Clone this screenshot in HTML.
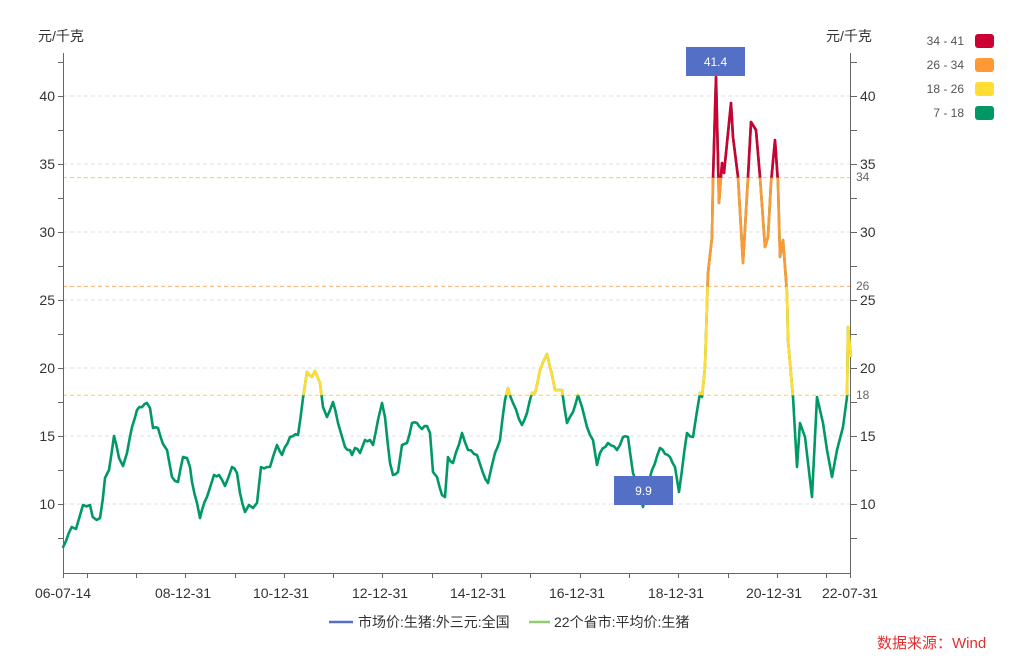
<!DOCTYPE html>
<html><head><meta charset="utf-8"><style>
body{margin:0;background:#fff;}
svg text{font-family:"Liberation Sans","Noto Sans CJK SC",sans-serif;}
</style></head><body>
<svg width="1019" height="661" viewBox="0 0 1019 661" xmlns="http://www.w3.org/2000/svg">
<defs>
<clipPath id="cr"><rect x="0" y="0" width="1019" height="177.6"/></clipPath>
<clipPath id="co"><rect x="0" y="177.6" width="1019" height="108.8"/></clipPath>
<clipPath id="cy"><rect x="0" y="286.4" width="1019" height="108.8"/></clipPath>
</defs>
<g stroke="#e0e0e0" stroke-dasharray="4,3" stroke-width="1">
<line x1="63" x2="850" y1="96" y2="96"/><line x1="63" x2="850" y1="164" y2="164"/>
<line x1="63" x2="850" y1="232" y2="232"/><line x1="63" x2="850" y1="300" y2="300"/>
<line x1="63" x2="850" y1="368" y2="368"/><line x1="63" x2="850" y1="436" y2="436"/>
<line x1="63" x2="850" y1="504" y2="504"/>
</g>
<g stroke-dasharray="4,3" stroke-width="1">
<line x1="63" x2="850" y1="177.6" y2="177.6" stroke="#fcc860"/>
<line x1="63" x2="850" y1="286.4" y2="286.4" stroke="#f9b070"/>
<line x1="63" x2="850" y1="395.2" y2="395.2" stroke="#fcd050"/>
</g>
<g fill="#666" font-size="12"><text x="856" y="181">34</text><text x="856" y="290">26</text><text x="856" y="399">18</text></g>
<g stroke="#666" stroke-width="1" fill="none">
<line x1="63.5" y1="53" x2="63.5" y2="573"/>
<line x1="850.5" y1="53" x2="850.5" y2="573"/>
<line x1="63" y1="573.5" x2="851" y2="573.5"/>
</g>
<g stroke="#666" stroke-width="1" id="ticks"></g>
<g font-size="14" fill="#333" text-anchor="end">
<text x="55" y="101">40</text><text x="55" y="169">35</text><text x="55" y="237">30</text><text x="55" y="305">25</text><text x="55" y="373">20</text><text x="55" y="441">15</text><text x="55" y="509">10</text>
</g>
<g font-size="14" fill="#333">
<text x="860" y="101">40</text><text x="860" y="169">35</text><text x="860" y="237">30</text><text x="860" y="305">25</text><text x="860" y="373">20</text><text x="860" y="441">15</text><text x="860" y="509">10</text>
</g>
<text x="38" y="41" font-size="14" fill="#333">元/千克</text>
<text x="826" y="41" font-size="14" fill="#333">元/千克</text>
<g font-size="14" fill="#333" text-anchor="middle">
<text x="63" y="598">06-07-14</text><text x="183" y="598">08-12-31</text><text x="281" y="598">10-12-31</text><text x="380" y="598">12-12-31</text><text x="478" y="598">14-12-31</text><text x="577" y="598">16-12-31</text><text x="676" y="598">18-12-31</text><text x="774" y="598">20-12-31</text><text x="850" y="598">22-07-31</text>
</g>
<g id="series" fill="none" stroke-width="2.6" stroke-linejoin="round"></g>
<rect x="686" y="47" width="59" height="29" fill="#5470c6"/>
<text x="715.5" y="66" font-size="12" fill="#fff" text-anchor="middle">41.4</text>
<rect x="614" y="476" width="59" height="29" fill="#5470c6"/>
<text x="643.5" y="495" font-size="12" fill="#fff" text-anchor="middle">9.9</text>
<g font-size="12" fill="#555" text-anchor="end">
<text x="964" y="45">34 - 41</text><text x="964" y="69">26 - 34</text><text x="964" y="93">18 - 26</text><text x="964" y="117">7 - 18</text>
</g>
<rect x="975" y="34" width="19" height="14" rx="3" fill="#cc0033"/>
<rect x="975" y="58" width="19" height="14" rx="3" fill="#ff9933"/>
<rect x="975" y="82" width="19" height="14" rx="3" fill="#ffdd33"/>
<rect x="975" y="106" width="19" height="14" rx="3" fill="#009966"/>
<line x1="329" y1="622" x2="353" y2="622" stroke="#5470c6" stroke-width="2.5"/>
<text x="358" y="627" font-size="14" fill="#333">市场价:生猪:外三元:全国</text>
<line x1="529" y1="622" x2="550" y2="622" stroke="#91cc75" stroke-width="2.5"/>
<text x="554" y="627" font-size="14" fill="#333">22个省市:平均价:生猪</text>
<text x="877" y="648" font-size="15" fill="#e03030">数据来源：Wind</text>
</svg>
<script>
var pts="62.7,548 71.7,527 76,529 83,505 90,505 92.7,517 96.7,520 100,518 102.7,500 105,478 109,470 114,436 119,458 123,466 127,453 132,427 137,410 147,403 150,408 153,428 158,428 163,444 167,450 172,477 178,482 183,457 187,458 190,467 192,482 197,503 200,518 202,510 207,497 214,475 219,475 225,486 232,467 237,473 240,493 245,512 249,505 253,508 257,503 261,467 270,467 277,445 282,455 290,437 298,435 303,398 307,372 312,377 315,371 320,383 323,407 327,417 333,402 338,423 345,447 350,450 352,455 355,448 360,453 365,440 370,440 373,445 378,420 382,403 385,417 390,463 393,475 398,472 402,445 407,443 412,423 417,423 422,429 427,426 430,433 433,472 437,477 442,495 445,497 448,457 453,463 462,433 468,450 477,455 483,473 488,483 495,453 500,440 505,400 508,388 513,403 522,425 527,413 532,393 535,393 540,370 547,354 550,367 555,390 562,390 567,423 573,412 578,395 582,407 587,427 593,440 597,465 600,453 608,443 617,450 623,437 628,437 633,473 643,507 652,470 660,448 670,457 675,467 679,492 687,433 693,437 700,393 702,397 705,367 708,273 712,237 713,180 716,77 719,203 722,163 724,173 727,143 731,103 733,137 738,177 743,263 748,177 751,122 756,130 760,177 765,247 768,237 771,183 775,140 778,183 780,257 783,240 787,293 788,340 793,397 797,467 800,423 805,437 812,497 817,397 823,423 827,450 832,477 837,450 843,427 847,397 848,327 851,357";
var arr=pts.split(" ").map(function(s){return s.split(",").map(Number);});
var out=[];
for(var i=0;i<arr.length;i++){out.push(arr[i]);if(i<arr.length-1&&arr[i][0]<700){var a=arr[i],b=arr[i+1],n=Math.floor((b[0]-a[0])/2.5);for(var j=1;j<n;j++){var f=j/n;out.push([a[0]+(b[0]-a[0])*f,a[1]+(b[1]-a[1])*f+((i*7+j*3)%5-2)*0.7]);}}}
pts=out.map(function(p){return p[0].toFixed(1)+","+p[1].toFixed(1);}).join(" ");
var ns="http://www.w3.org/2000/svg",g=document.getElementById("series");
[["#009966",null],["#ffdd33","cy"],["#ff9933","co"],["#cc0033","cr"]].forEach(function(c){var p=document.createElementNS(ns,"polyline");p.setAttribute("points",pts);p.setAttribute("stroke",c[0]);if(c[1])p.setAttribute("clip-path","url(#"+c[1]+")");g.appendChild(p);});
var t=document.getElementById("ticks");
function L(a,b,c,d){var l=document.createElementNS(ns,"line");l.setAttribute("x1",a);l.setAttribute("y1",b);l.setAttribute("x2",c);l.setAttribute("y2",d);t.appendChild(l);}
for(var v=7.5;v<=42.5;v+=2.5){var y=Math.round(504-(v-10)*13.6)+0.5;L(58,y,63,y);L(851,y,857,y);}
for(var k=0;k<16;k++){var x=Math.round(86.7+49.3*k)+0.5;L(x,573,x,578);}
L(63.5,573,63.5,578);L(850.5,573,850.5,578);
</script>
</body></html>
